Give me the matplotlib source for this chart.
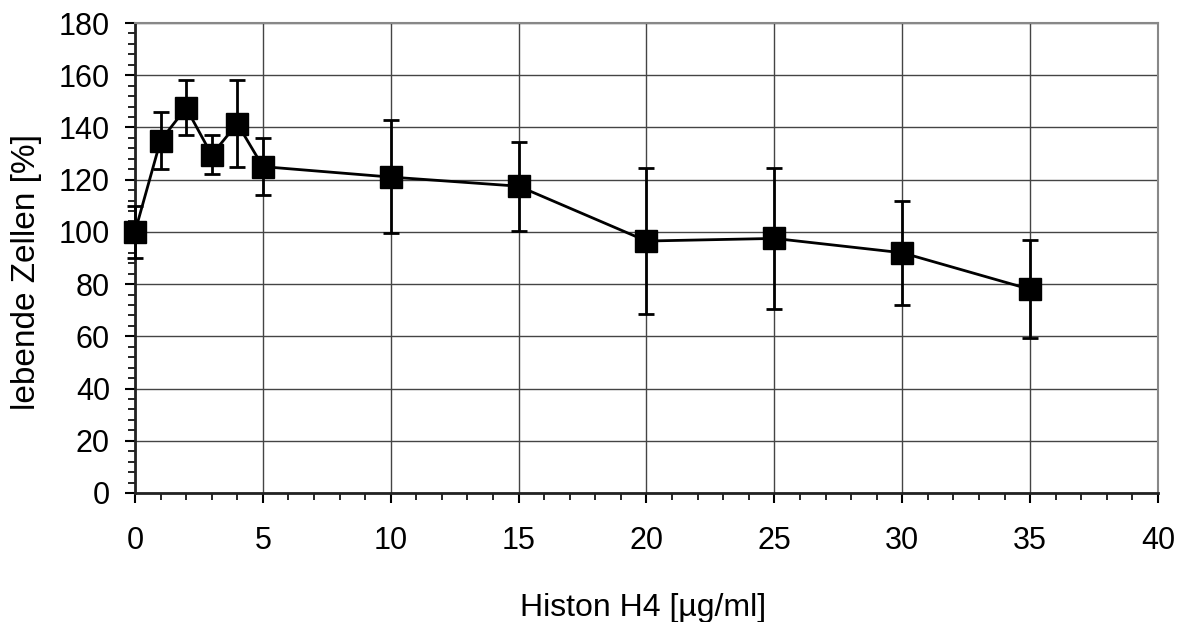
import numpy as np
import matplotlib.pyplot as plt
from matplotlib.ticker import MultipleLocator

# Daten
konz = [0, 1, 2, 3, 4, 5, 10, 15, 20, 25, 30, 35]
lebend = [100, 135, 147.5, 129.5, 141.5, 125, 121, 117.5, 96.5, 97.5, 92, 78]
err_unten = [10, 11, 10.5, 7.5, 16.5, 11, 21.5, 17, 28, 27, 20, 18.5]
err_oben = [10, 11, 10.5, 7.5, 16.5, 11, 22, 17, 28, 27, 20, 19]

plt.rcParams['font.family'] = ['Liberation Sans', 'DejaVu Sans']

fig = plt.figure(figsize=(11.82, 6.22), dpi=100)
ax = fig.add_axes([0.1142, 0.2074, 0.8655, 0.7556])

ax.errorbar(konz, lebend, yerr=[err_unten, err_oben], fmt='-s', color='black',
            markersize=16, linewidth=2, elinewidth=2, capsize=6, capthick=2,
            zorder=3, clip_on=False)

ax.set_xlim(0, 40)
ax.set_ylim(0, 180)
ax.xaxis.set_major_locator(MultipleLocator(5))
ax.xaxis.set_minor_locator(MultipleLocator(1))
ax.yaxis.set_major_locator(MultipleLocator(20))
ax.yaxis.set_minor_locator(MultipleLocator(4))
ax.grid(True, which='major', color='#444444', linewidth=1)
ax.set_axisbelow(True)

ax.tick_params(which='major', direction='out', length=7, width=1.5, labelsize=22)
ax.tick_params(which='minor', direction='out', length=5, width=1.2)
ax.tick_params(axis='x', which='major', pad=17)
ax.tick_params(axis='y', which='major', pad=11)

for s in ['left', 'bottom']:
    ax.spines[s].set_linewidth(2)
    ax.spines[s].set_color('#222222')
for s in ['top', 'right']:
    ax.spines[s].set_linewidth(1.5)
    ax.spines[s].set_color('#888888')

ax.set_xlabel('Histon H4 [µg/ml]', fontsize=23)
ax.xaxis.label.set_va('baseline')
ax.xaxis.set_label_coords(0.4966, -0.2617)
ax.set_ylabel('lebende Zellen [%]', fontsize=24)
ax.yaxis.label.set_va('center')
ax.yaxis.set_label_coords(-0.1056, 0.47)

fig.savefig('out.png', dpi=100)
